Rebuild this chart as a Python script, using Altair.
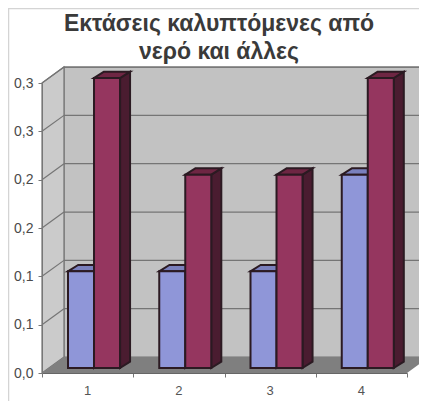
import altair as alt
import pandas as pd

categories = [1, 2, 3, 4]
series_a = [0.1, 0.1, 0.1, 0.2]
series_b = [0.3, 0.2, 0.2, 0.3]
y_ticks = [0, 0.05, 0.1, 0.15, 0.2, 0.25, 0.3]
title_lines = ["Εκτάσεις καλυπτόμενες από", "νερό και άλλες"]

# depth of the fake 3-D box and bars, in data units
DX, DY = 0.241, 0.0165
BAR_W, BAR_DX, BAR_DY, BASE = 0.285, 0.11, 0.0065, 0.0052
XMAX = 4

xs = alt.Scale(domain=[0, XMAX], nice=False, zero=False)
ys = alt.Scale(domain=[0, 0.3], nice=False, zero=False)

x_axis = alt.Axis(values=list(range(XMAX + 1)), labels=False, tickSize=4, tickColor="#777777",
                  domainColor="#666666", grid=False, zindex=1, title=None)
y_axis = alt.Axis(values=y_ticks, tickSize=4, tickColor="#777777", domainColor="#777777", grid=False,
                  labelExpr="replace(format(datum.value+0.0001,'.1f'),'.',',')",
                  labelFont="Liberation Sans", labelFontSize=14, labelColor="#4a4a4a",
                  labelPadding=5, zindex=1, title=None)


def X(f):
    return alt.X(f, type="quantitative", scale=xs, axis=x_axis)


def Y(f):
    return alt.Y(f, type="quantitative", scale=ys, axis=y_axis)


def quad_v(rows, color, stroke=None, sw=1):
    """parallelogram with vertical sides"""
    kw = {"stroke": stroke, "strokeWidth": sw} if stroke else {}
    return alt.Chart(pd.DataFrame(rows)).mark_area(color=color, opacity=1, orient="vertical", **kw).encode(
        x=X("x"), y=Y("y"), y2=alt.Y2("y2")
    )


def quad_h(rows, color, stroke=None, sw=1):
    """parallelogram with horizontal sides"""
    kw = {"stroke": stroke, "strokeWidth": sw} if stroke else {}
    return alt.Chart(pd.DataFrame(rows)).mark_area(color=color, opacity=1, orient="horizontal", **kw).encode(
        y=Y("y"), x=X("x"), x2=alt.X2("x2")
    )


EDGE = "#757575"
layers = []

# frame of the chart area
layers.append(alt.Chart(pd.DataFrame({"a": [0]})).mark_rule(color="#d4d4d4", strokeWidth=1.5).encode(
    x=alt.value(-34), x2=alt.value(400), y=alt.value(-74.5)))
layers.append(alt.Chart(pd.DataFrame({"a": [0]})).mark_rule(color="#d4d4d4", strokeWidth=1.5).encode(
    x=alt.value(-33.5), y=alt.value(-75), y2=alt.value(320)))

# back wall, left wall, floor
layers.append(quad_v([{"x": DX, "y": DY, "y2": 0.3 + DY},
                      {"x": XMAX + DX, "y": DY, "y2": 0.3 + DY}], "#c2c2c2", EDGE, 1.2))
layers.append(quad_v([{"x": 0, "y": 0, "y2": 0.3},
                      {"x": DX, "y": DY, "y2": 0.3 + DY}], "#cbcbcb", EDGE, 1.2))
layers.append(quad_h([{"y": 0, "x": 0, "x2": XMAX},
                      {"y": DY, "x": DX, "x2": XMAX + DX}], "#7f7f7f"))

# gridlines on the walls
grid = pd.DataFrame({"v": y_ticks[1:]})
grid["vb"] = grid["v"] + DY
grid["xb"] = DX
grid["xe"] = XMAX + DX
grid["x0"] = 0.0
layers.append(alt.Chart(grid).mark_rule(color=EDGE, strokeWidth=1.2).encode(
    x=X("xb"), x2=alt.X2("xe"), y=Y("vb")))
layers.append(alt.Chart(grid).mark_rule(color=EDGE, strokeWidth=1.2).encode(
    x=X("x0"), x2=alt.X2("xb"), y=Y("v"), y2=alt.Y2("vb")))

# bars
OUT = "#2b1a22"
for offset, vals, front, side, top in [
    (BAR_W, series_a, "#8f96d8", "#5c5f96", "#7a80bd"),
    (2 * BAR_W, series_b, "#95365f", "#4a1c30", "#6e2643"),
]:
    for c, v in zip(categories, vals):
        x0 = (c - 1) + offset
        x1 = x0 + BAR_W
        y0 = BASE
        y1 = BASE + v
        layers.append(quad_v([{"x": x1, "y": y0, "y2": y1},
                              {"x": x1 + BAR_DX, "y": y0 + BAR_DY, "y2": y1 + BAR_DY}], side, OUT, 2))
        layers.append(quad_h([{"y": y1, "x": x0, "x2": x1},
                              {"y": y1 + BAR_DY, "x": x0 + BAR_DX, "x2": x1 + BAR_DX}], top, OUT, 2))
        layers.append(alt.Chart(pd.DataFrame([{"x": x0, "x2": x1, "y": y0, "y2": y1}]))
                      .mark_rect(color=front, stroke=OUT, strokeWidth=2)
                      .encode(x=X("x"), x2=alt.X2("x2"), y=Y("y"), y2=alt.Y2("y2")))

# category labels
cat_df = pd.DataFrame({"c": categories})
cat_df["x"] = cat_df["c"] - 0.5
layers.append(alt.Chart(cat_df).mark_text(font="Liberation Sans", fontSize=13, color="#555555").encode(
    x=X("x"), y=alt.value(308), text="c:N"))

chart = alt.layer(*layers).properties(
    width=365,
    height=290,
    padding={"left": 34, "top": 75, "right": 12, "bottom": 28},
    autosize=alt.AutoSizeParams(type="none"),
    background="white",
    title=alt.TitleParams(text=title_lines, font="Liberation Sans", fontSize=23, fontWeight="bold",
                          color="#3a3a3a", lineHeight=28, anchor="middle", frame="group", dx=-5.5, offset=0, dy=57),
).configure_view(stroke=None)

chart.save("out.html", embed_options={"renderer": "svg", "actions": False})
